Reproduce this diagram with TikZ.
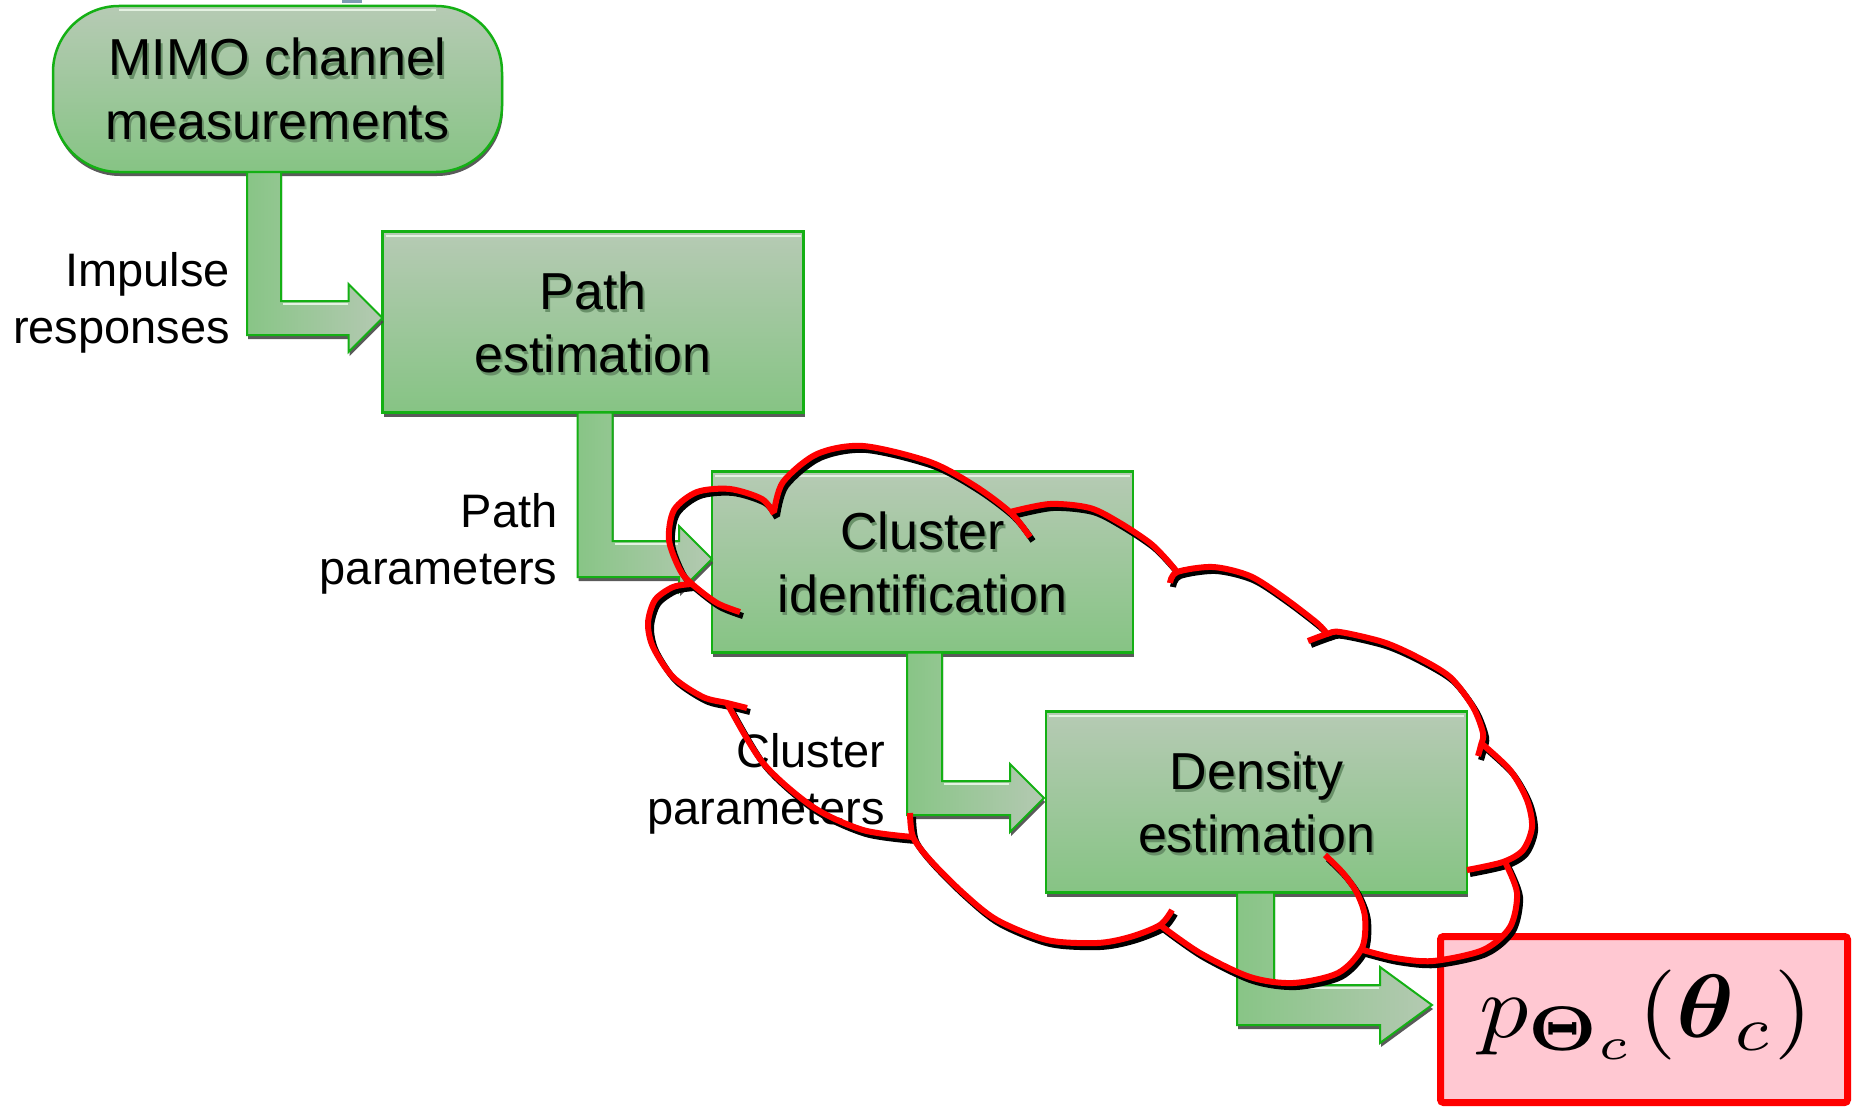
\documentclass[tikz,border=0pt]{standalone}
\usepackage{fontspec}
\setmainfont{Liberation Sans}
\usepackage{amsmath}
\usepackage{graphicx}
\usetikzlibrary{calc,shadows}

\definecolor{boxtop}{RGB}{182,202,180}
\definecolor{boxbot}{RGB}{134,196,132}
\definecolor{boxline}{RGB}{20,176,20}
\definecolor{shadowgrey}{RGB}{72,72,72}
\definecolor{txtshadow}{RGB}{105,145,105}
\definecolor{arrowdark}{RGB}{136,197,134}
\definecolor{arrowlight}{RGB}{180,201,178}
\definecolor{hilite}{RGB}{228,242,226}
\definecolor{pinkfill}{RGB}{255,200,210}
\definecolor{cloudred}{RGB}{255,0,0}
\definecolor{tagblue}{RGB}{125,155,180}

\tikzset{
  stagebox/.style={draw=boxline, line width=2.5pt, top color=boxtop, bottom color=boxbot,
    minimum width=421pt, minimum height=181pt, inner sep=0pt, outer sep=0pt,
    drop shadow={shadow xshift=1pt, shadow yshift=-4pt, fill=shadowgrey, opacity=0.9}},
  boxtxt/.style={font=\fontsize{52}{60}\selectfont, inner sep=0pt, outer sep=0pt, anchor=base},
  boxtxtsh/.style={boxtxt, text=txtshadow},
  lbl/.style={font=\fontsize{47}{57}\selectfont, inner sep=0pt, outer sep=0pt, anchor=base east},
  arrowfill/.style={draw=boxline, line width=2pt, left color=arrowdark, middle color=arrowdark!75!arrowlight,
    right color=arrowlight, line join=miter,
    drop shadow={shadow xshift=1pt, shadow yshift=-4pt, fill=shadowgrey, opacity=0.9}},
  hl/.style={draw=hilite, line width=2pt},
  cloudline/.style={draw=cloudred, line width=6pt, line cap=butt},
  cloudshadow/.style={draw=black, line width=6pt, line cap=butt},
}

\newcommand{\bentarrow}[6]{%
  \path[arrowfill] (#1) -- ++(#3,0) |- ($(#2)+(-#5,-#4)$) -- ($(#2)+(-#5,-#6)$) -- (#2)
     -- ($(#2)+(-#5,#6)$) -- ($(#2)+(-#5,#4)$) -| (#1) -- cycle;
  \draw[hl] ($(#1 |- #2)+(#3+2,-#4+3)$) -- ($(#2)+(-#5-1,-#4+3)$);
}

\newcommand{\stagetext}[3]{%
  \node[boxtxtsh] (#1-s1) at ($(#1.center)+(2,-10)$) {#2};
  \node[boxtxtsh] (#1-s2) at ($(#1.center)+(2,53)$) {#3};
  \node[boxtxt] (#1-t1) at ($(#1.center)+(0,-13)$) {#2};
  \node[boxtxt] (#1-t2) at ($(#1.center)+(0,50)$) {#3};
}

\newcommand{\cloudshape}{%
  plot[smooth] coordinates {(740,612) (717,603) (692,584) (680,570) (669,540) (674,510) (697,492) (730,489) (762,499) (774,514)}
  plot[smooth] coordinates {(774,512) (783,482) (817,454) (863,446) (930,462) (975,486) (1011,513) (1030,537)}
  plot[smooth] coordinates {(1010,512) (1050,504) (1090,508) (1120,523) (1150,543) (1167,560) (1177,572)}
  plot[smooth] coordinates {(1170,583) (1177,572) (1213,567) (1250,576) (1283,597) (1317,623) (1327,634)}
  plot[smooth] coordinates {(1308,641) (1327,634) (1340,632) (1383,642) (1417,657) (1450,677) (1473,707) (1483,733) (1481,745) (1478,756)}
  plot[smooth] coordinates {(1481,743) (1510,770) (1527,800) (1532,827) (1523,850) (1503,862) (1467,870)}
  plot[smooth] coordinates {(1505,862) (1517,893) (1510,927) (1483,950) (1433,961) (1395,958) (1363,950)}
  plot[smooth] coordinates {(1325,855) (1343,873) (1357,893) (1365,917) (1362,948) (1338,973) (1293,983) (1250,977) (1200,953) (1160,925)}
  plot[smooth] coordinates {(1172,910) (1160,925) (1130,937) (1097,943) (1047,940) (997,920) (963,893) (930,860) (913,837) (910,813)}
  plot[smooth] coordinates {(913,837) (863,830) (813,807) (763,763) (727,703)}
  plot[smooth] coordinates {(747,708) (727,703) (703,697) (673,677) (653,647) (648,623) (655,600) (673,587) (692,584)}
}

\begin{document}
\begin{tikzpicture}[x=1pt,y=-1pt]
\useasboundingbox (0,0) rectangle (1853,1116);

% small blue mark at the top edge
\fill[tagblue] (342,0) rectangle (362,3.5);

% stage boxes
\node[stagebox, rounded corners=66pt, minimum width=449pt, minimum height=166pt] (mimo) at (277.5,89) {};
\node[stagebox] (path) at (593,322) {};
\node[stagebox] (clus) at (922.5,562) {};
\node[stagebox] (dens) at (1256.5,802) {};

\draw[hl] ($(mimo.north west)+(66,4)$) -- ($(mimo.north east)+(-66,4)$);
\draw[hl] ($(path.north west)+(3,4)$) -- ($(path.north east)+(-3,4)$);
\draw[hl] ($(clus.north west)+(3,4)$) -- ($(clus.north east)+(-3,4)$);
\draw[hl] ($(dens.north west)+(3,4)$) -- ($(dens.north east)+(-3,4)$);

\stagetext{mimo}{MIMO channel}{measurements}
\stagetext{path}{Path}{estimation}
\stagetext{clus}{Cluster}{identification}
\stagetext{dens}{Density}{estimation}

% result box
\node[draw=cloudred, line width=7pt, fill=pinkfill, minimum width=407pt, minimum height=166pt,
      inner sep=0pt, outer sep=0pt, rounded corners=3pt,
      drop shadow={shadow xshift=2pt, shadow yshift=-3pt, fill=black, opacity=0.3}] (pbox) at (1644,1019.5) {};
\node[inner sep=0pt, outer sep=0pt, anchor=base] (pform) at (1646,1037)
  {\scalebox{9.8}[9.0]{$p_{\boldsymbol{\Theta}_c}(\boldsymbol{\theta}_c)$}};

% bent arrows
\coordinate (a1s) at ($(mimo.south west)+(194,0)$);
\coordinate (a1t) at ($(path.west)+(0,-4)$);
\bentarrow{a1s}{a1t}{34}{17}{34}{34}
\coordinate (a2s) at ($(path.south west)+(195,0)$);
\coordinate (a2t) at ($(clus.west)+(0,-3)$);
\bentarrow{a2s}{a2t}{35}{18}{33}{33}
\coordinate (a3s) at ($(clus.south west)+(195,0)$);
\coordinate (a3t) at ($(dens.west)+(-2,-4)$);
\bentarrow{a3s}{a3t}{35}{17}{34}{34}
\coordinate (a4s) at ($(dens.south west)+(191,0)$);
\coordinate (a4t) at ($(pbox.west)+(-8.5,-14.5)$);
\bentarrow{a4s}{a4t}{37}{20}{52}{38}

% arrow labels
\node[lbl] (l1a) at ($(a1s |- a1t)+(-17,-32)$) {Impulse};
\node[lbl] (l1b) at ($(a1s |- a1t)+(-17,25)$) {responses};
\node[lbl] (l2a) at ($(a2s |- a2t)+(-20,-32)$) {Path};
\node[lbl] (l2b) at ($(a2s |- a2t)+(-20,25)$) {parameters};
\node[lbl] (l3a) at ($(a3s |- a3t)+(-22,-31)$) {Cluster};
\node[lbl] (l3b) at ($(a3s |- a3t)+(-22,26)$) {parameters};

% cloud outline with its black shadow
\draw[cloudshadow, shift={(3,4)}] \cloudshape;
\draw[cloudline] \cloudshape;
\end{tikzpicture}
\end{document}
